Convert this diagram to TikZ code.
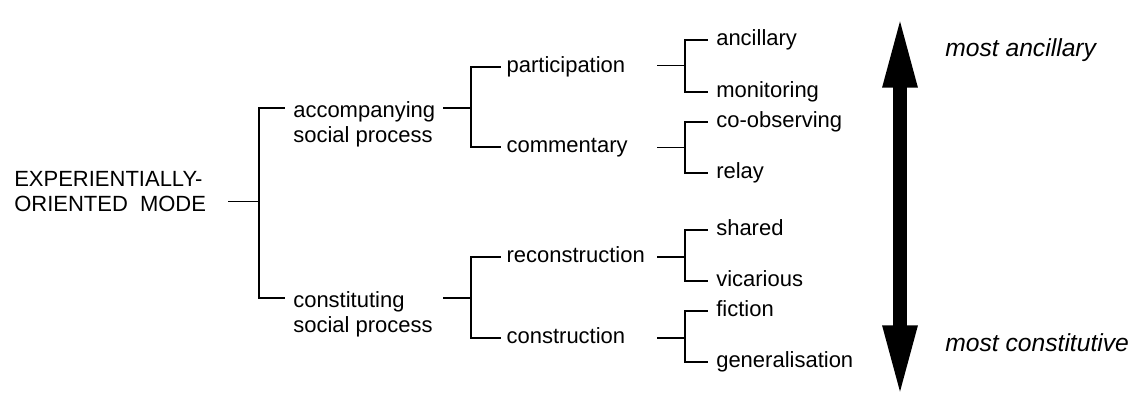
\documentclass[tikz,border=0pt]{standalone}
\usepackage{fontspec}
\setmainfont{Liberation Sans}
\usetikzlibrary{arrows.meta}

\tikzset{
  lbl/.style   = {anchor=west, inner xsep=6pt, inner ysep=0pt,
                  font=\fontsize{16.5}{19}\selectfont, text height=12pt, text depth=3pt},
  lbltwo/.style= {anchor=north west, inner xsep=6pt, inner ysep=0pt, align=left,
                  font=\fontsize{16.5}{19}\selectfont},
  scalelbl/.style = {anchor=west, inner sep=0pt, font=\fontsize{18.5}{20}\selectfont\itshape},
  thinline/.style  = {line width=0.75pt},
  thickline/.style = {line width=1.7pt},
}

\begin{document}
\begin{tikzpicture}[x=0.75pt, y=-0.75pt]
\useasboundingbox (0,0) rectangle (1139,402);

% junctions and columns
\coordinate (j0) at (259,202);
\coordinate (j1) at (471,108);
\coordinate (j2) at (471,298);
\coordinate (j3) at (685,66);
\coordinate (j4) at (685,148);
\coordinate (j5) at (685,257);
\coordinate (j6) at (685,338);
\coordinate (c0) at (228,0);
\coordinate (c1) at (443,0);
\coordinate (c2) at (657,0);

% labels
\node[lbltwo, inner xsep=0pt, anchor=south west] (mode) at (14,212) {EXPERIENTIALLY-\\ORIENTED\hspace{0.55em}MODE};
\node[lbltwo] (acc) at (285,101) {accompanying\\social process};
\node[lbltwo] (con) at (285,291) {constituting\\social process};
\node[lbl, inner xsep=4pt] (part)   at (501,67)  {participation};
\node[lbl, inner xsep=4pt] (comm)   at (501,147) {commentary};
\node[lbl, inner xsep=4pt] (recon)  at (501,257) {reconstruction};
\node[lbl, inner xsep=4pt] (constr) at (501,338) {construction};
\node[lbl] (anc)    at (708,40)  {ancillary};
\node[lbl] (mon)    at (708,92)  {monitoring};
\node[lbl] (coobs)  at (708,122) {co-observing};
\node[lbl] (relay)  at (708,173) {relay};
\node[lbl] (shared) at (708,230) {shared};
\node[lbl] (vic)    at (708,281) {vicarious};
\node[lbl] (fic)    at (708,311) {fiction};
\node[lbl] (gen)    at (708,362) {generalisation};

% tree
\draw[thinline] (c0 |- j0) -- (j0);
\draw[thickline] (j0) |- ([yshift=-5pt]acc.north west);
\draw[thickline] (j0) |- ([yshift=-5pt]con.north west);

\draw[thickline] (c1 |- j1) -- (j1);
\draw[thickline] (c1 |- j2) -- (j2);
\draw[thickline] (j1) |- (part.west);
\draw[thickline] (j1) |- (comm.west);
\draw[thickline] (j2) |- (recon.west);
\draw[thickline] (j2) |- (constr.west);

\draw[thinline] (c2 |- j3) -- (j3);
\draw[thinline] (c2 |- j4) -- (j4);
\draw[thickline] (c2 |- j5) -- (j5);
\draw[thickline] (c2 |- j6) -- (j6);
\draw[thickline] (j3) |- (anc.west);
\draw[thickline] (j3) |- (mon.west);
\draw[thickline] (j4) |- (coobs.west);
\draw[thickline] (j4) |- (relay.west);
\draw[thickline] (j5) |- (shared.west);
\draw[thickline] (j5) |- (vic.west);
\draw[thickline] (j6) |- (fic.west);
\draw[thickline] (j6) |- (gen.west);

% scale
\coordinate (top) at (900,13);
\coordinate (bot) at (900,400);
\draw[line width=11pt, {Triangle[length=56pt,width=23pt]}-{Triangle[length=56pt,width=23pt]}] (top) -- (bot);
\node[scalelbl] (mostanc) at (945,50)  {most ancillary};
\node[scalelbl] (mostcon) at (945,343) {most constitutive};
\end{tikzpicture}
\end{document}
